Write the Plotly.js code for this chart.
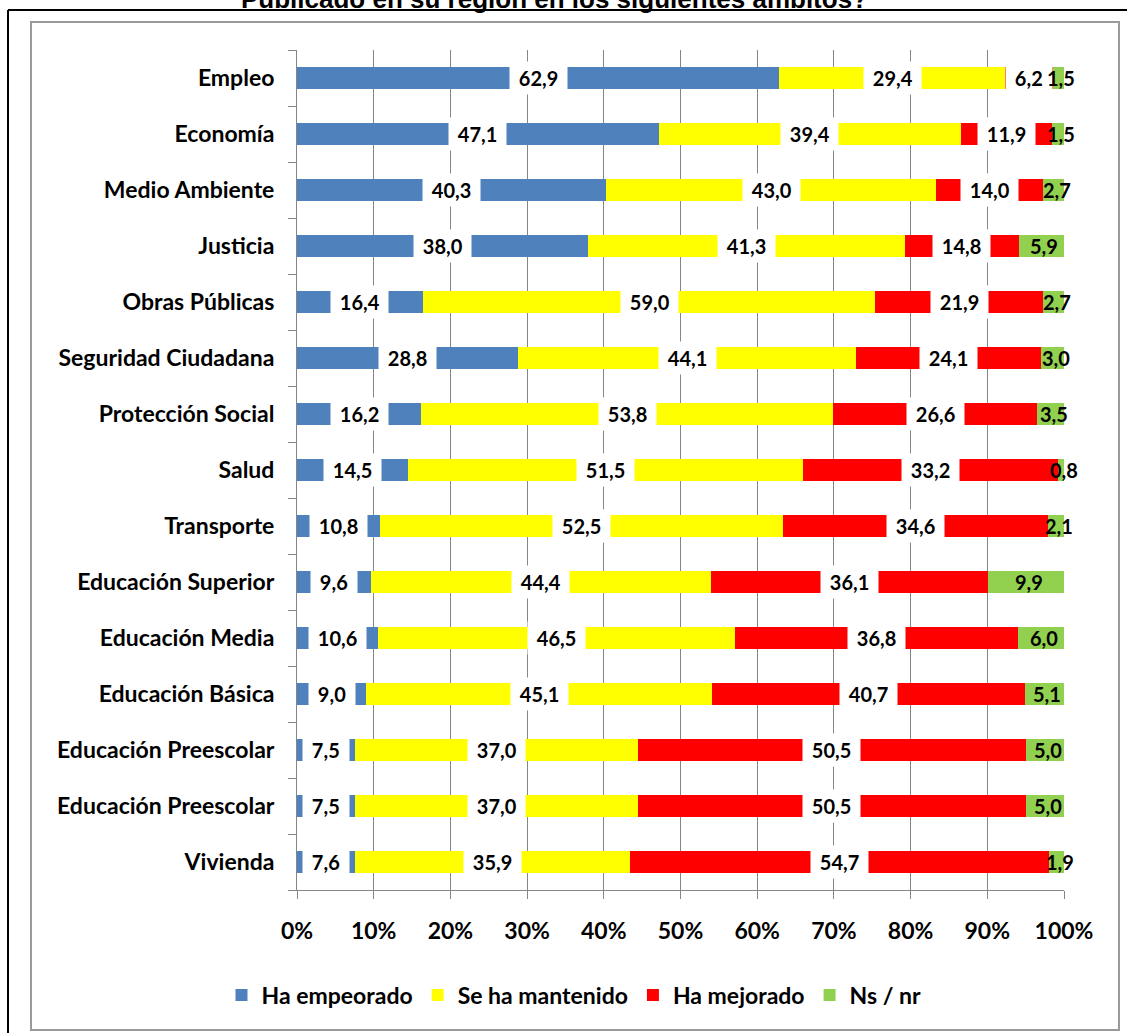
<!DOCTYPE html>
<html>
<head>
<meta charset="utf-8">
<script src="https://cdn.plot.ly/plotly-3.0.1.min.js"></script>
<style>html,body{margin:0;padding:0;background:#fff;} #chart{width:1127px;height:1033px;}</style>
</head>
<body>
<div id="chart"></div>
<script>
const categories = ['Empleo','Economía','Medio Ambiente','Justicia','Obras Públicas','Seguridad Ciudadana','Protección Social','Salud','Transporte','Educación Superior','Educación Media','Educación Básica','Educación Preescolar','Educación Preescolar','Vivienda'];
const empeorado = [62.9,47.1,40.3,38.0,16.4,28.8,16.2,14.5,10.8,9.6,10.6,9.0,7.5,7.5,7.6];
const mantenido = [29.4,39.4,43.0,41.3,59.0,44.1,53.8,51.5,52.5,44.4,46.5,45.1,37.0,37.0,35.9];
const mejorado  = [6.2,11.9,14.0,14.8,21.9,24.1,26.6,33.2,34.6,36.1,36.8,40.7,50.5,50.5,54.7];
const nsnr      = [1.5,1.5,2.7,5.9,2.7,3.0,3.5,0.8,2.1,9.9,6.0,5.1,5.0,5.0,1.9];
const seriesNames = ['Ha empeorado','Se ha mantenido','Ha mejorado','Ns / nr'];
const tickLabels = ['0%','10%','20%','30%','40%','50%','60%','70%','80%','90%','100%'];
const titleText = 'Publicado en su región en los siguientes ámbitos?';

const seriesVals = [empeorado, mantenido, mejorado, nsnr];
const colors = ['#4F81BD','#FFFF00','#FF0000','#92D050'];
const FONT = 'Lato, "Open Sans", sans-serif';

const W = 1127, H = 1033;
const mL = 297, mR = 63, mT = 50, mB = 143;
const pw = W - mL - mR, ph = H - mT - mB;
const px = x => (x - mL) / pw;
const py = y => (H - mB - y) / ph;

const yIdx = categories.map((c, i) => i);

const traces = seriesVals.map((vals, s) => ({
  type: 'bar', orientation: 'h',
  name: seriesNames[s],
  x: vals, y: yIdx,
  marker: {color: colors[s], line: {width: 0}},
  hoverinfo: 'skip'
}));

const annotations = [];
categories.forEach((c, i) => {
  const tot = seriesVals.reduce((a, v) => a + v[i], 0);
  let cum = 0;
  seriesVals.forEach((vals, s) => {
    const v = vals[i] / tot * 100;
    const center = cum + v / 2;
    cum += v;
    const txt = vals[i].toFixed(1).replace('.', ',');
    annotations.push({
      x: center, y: i, xref: 'x', yref: 'y',
      text: s < 3 ? '\u00a0' + txt + '\u00a0' : txt,
      showarrow: false,
      font: {family: FONT, size: 20, color: '#000', weight: 'bold'},
      bgcolor: s < 3 ? '#ffffff' : 'rgba(0,0,0,0)',
      borderpad: s < 3 ? 4 : 0,
      xshift: s < 3 ? 0 : 3,
      xanchor: 'center', yanchor: 'middle'
    });
  });
});

annotations.push({
  x: px(554), y: py(16), xref: 'paper', yref: 'paper',
  xanchor: 'center', yanchor: 'bottom', showarrow: false,
  text: titleText,
  font: {family: '"Liberation Sans", Arial, sans-serif', size: 26, color: '#000', weight: 'bold'}
});

const boundaries = [];
for (let i = 0; i <= categories.length; i++) boundaries.push(i - 0.5);

const shapes = [
  {type: 'rect', xref: 'paper', yref: 'paper', x0: px(31), x1: px(1119), y0: py(1030), y1: py(22),
   line: {color: '#9a9a9a', width: 2}, fillcolor: 'rgba(0,0,0,0)', layer: 'below'},
  {type: 'line', xref: 'paper', yref: 'paper', x0: px(8), x1: px(1140), y0: py(10), y1: py(10),
   line: {color: '#000', width: 2}},
  {type: 'line', xref: 'paper', yref: 'paper', x0: px(8), x1: px(8), y0: py(10), y1: py(1050),
   line: {color: '#000', width: 2}}
];

const layout = {
  width: W, height: H,
  margin: {l: mL, r: mR, t: mT, b: mB, pad: 0},
  barmode: 'stack', barnorm: 'percent', bargap: 0.6,
  paper_bgcolor: '#fff', plot_bgcolor: '#fff',
  font: {family: FONT, color: '#000'},
  showlegend: true,
  legend: {orientation: 'h', x: px(574), y: py(995), xanchor: 'center', yanchor: 'middle',
           font: {family: FONT, size: 23, color: '#000', weight: 'bold'}, traceorder: 'normal', itemclick: false},
  xaxis: {
    range: [0, 100], tickmode: 'array', tickvals: tickLabels.map((t, i) => i * 10), ticktext: tickLabels,
    showgrid: true, gridcolor: '#868686', gridwidth: 1,
    showline: true, linecolor: '#868686', linewidth: 1,
    ticks: 'outside', ticklen: 8, tickcolor: '#868686',
    ticklabelstandoff: 12,
    tickfont: {family: FONT, size: 23, color: '#000', weight: 'bold'},
    zeroline: false, fixedrange: true
  },
  yaxis: {
    range: [categories.length - 0.5, -0.5], tickmode: 'array', tickvals: yIdx, ticktext: categories,
    showgrid: false, zeroline: false,
    showline: true, linecolor: '#868686', linewidth: 1,
    ticks: '', ticklabelstandoff: 17,
    tickfont: {family: FONT, size: 23, color: '#000', weight: 'bold'},
    minor: {tickmode: 'array', tickvals: boundaries, ticks: 'outside', ticklen: 8, tickcolor: '#868686', showgrid: false},
    fixedrange: true
  },
  annotations: annotations,
  shapes: shapes
};

Plotly.newPlot('chart', traces, layout, {displayModeBar: false, staticPlot: true});
</script>
</body>
</html>
